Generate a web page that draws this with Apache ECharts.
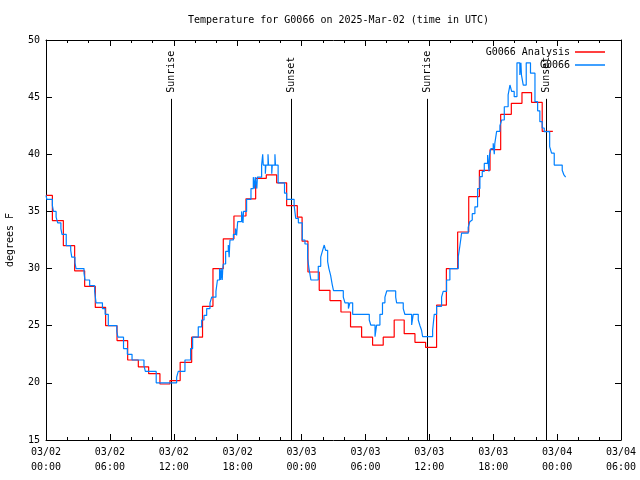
<!DOCTYPE html>
<html><head><meta charset="utf-8">
<script src="https://cdn.jsdelivr.net/npm/echarts@6/dist/echarts.min.js"></script>
<style>html,body{margin:0;padding:0;background:#fff}#c{width:640px;height:480px}</style>
</head><body><div id="c"></div>
<script>
// Hours since 2025-03-02 00:00 UTC
const xTickLabels = ['03/02\n00:00','03/02\n06:00','03/02\n12:00','03/02\n18:00','03/03\n00:00','03/03\n06:00','03/03\n12:00','03/03\n18:00','03/04\n00:00','03/04\n06:00'];
const analysisTimes = [0,0.6,1.63,2.69,3.63,4.63,5.6,6.67,7.67,8.67,9.64,10.7,11.64,12.6,13.68,14.7,15.68,16.65,17.65,18.78,19.69,20.69,21.66,22.6,23.6,24.05,24.6,25.66,26.67,27.7,28.6,29.64,30.67,31.67,32.7,33.64,34.65,35.65,36.68,37.6,38.66,39.7,40.7,41.7,42.7,43.7,44.7,45.6,46.6,47.6];
const analysisTemps = [36.4,34.2,32.0,29.8,28.45,26.6,25.0,23.7,22.0,21.4,20.8,19.9,20.2,21.8,24.0,26.7,30.0,32.6,34.6,36.1,37.9,38.2,37.5,35.5,34.5,32.4,29.7,28.1,27.2,26.2,24.9,24.0,23.3,24.0,25.5,24.3,23.55,23.1,26.8,30.0,33.2,36.3,38.6,40.4,43.5,44.46,45.4,44.55,42.0,42.0];
const obsTimes = [0,0.08,0.6,0.7,0.95,1.1,1.4,1.5,1.9,2.32,2.42,2.72,2.82,3.57,3.66,4.1,4.57,4.7,5.3,5.55,5.85,6.65,6.75,7.28,7.64,8.08,9.2,9.33,10.35,12.27,12.42,13.05,13.58,13.77,14.3,14.62,14.84,15.09,15.4,15.56,15.96,16.1,16.3,16.4,16.45,16.55,16.6,16.65,16.87,17.12,17.2,17.25,17.28,17.6,17.8,17.9,17.95,18.0,18.37,18.5,18.55,18.84,19.25,19.47,19.6,19.65,19.8,19.85,20.25,20.35,20.4,20.6,20.65,20.85,20.9,21.2,21.25,21.5,21.55,21.8,22.4,22.6,23.3,23.45,23.7,24.07,24.32,24.57,24.7,24.88,25.57,25.8,25.95,26.13,26.26,26.45,26.57,26.73,26.88,27.0,27.92,28.08,28.4,28.54,28.8,30.36,30.5,30.9,31.05,31.36,31.6,31.83,32.0,32.84,32.93,33.55,33.7,34.34,34.49,34.96,35.12,35.27,35.37,36.31,36.46,36.68,37.15,37.3,37.62,37.93,38.72,38.87,39.03,39.65,39.8,39.9,40.03,40.28,40.53,40.75,40.97,41.16,41.47,41.6,41.65,41.78,42.0,42.1,42.15,42.32,42.63,42.79,43.04,43.4,43.57,43.73,43.97,44.23,44.5,44.6,44.65,44.82,45.1,45.5,45.92,46.17,46.38,46.6,46.79,47.3,47.48,47.73,48.48,48.64,48.8];
const obsTemps = [36.4,36.06,35.5,35.0,34.5,34.0,33.5,33.0,32.0,31.6,31.0,30.5,30.0,29.6,29.0,28.5,28.0,27.0,26.5,26.0,25.0,24.5,24.0,23.0,22.5,22.0,21.5,21.0,20.0,20.5,21.0,22.0,23.0,24.0,24.9,25.5,25.9,26.5,27.0,27.5,28.0,29.0,30.0,29.0,30.0,29.0,30.0,30.4,31.5,32.06,31.0,32.06,32.5,33.0,33.5,32.9,33.5,34.1,35.0,34.0,35.0,36.06,37.0,38.0,37.0,38.0,37.0,38.0,39.06,40.0,39.06,38.3,39.06,40.0,39.06,38.3,39.06,40.0,39.06,37.5,36.6,36.06,35.56,34.4,34.0,32.5,32.15,30.9,30.0,29.0,30.2,31.0,31.5,32.06,31.6,30.6,30.0,29.4,28.6,28.07,27.5,27.0,26.5,27.0,26.0,25.5,25.06,24.04,25.06,26.0,27.0,27.5,28.04,27.5,27.0,26.5,26.0,25.06,26.0,25.5,25.0,24.6,24.04,24.6,26.0,26.7,27.5,28.0,29.0,30.0,31.04,32.0,33.1,33.6,34.1,34.25,34.8,35.4,37.0,38.04,38.5,39.2,39.94,38.5,39.94,40.5,40.96,40.0,40.96,42.0,42.5,43.0,44.16,45.19,46.06,45.5,45.04,48.0,46.94,48.0,46.94,46.06,48.0,47.1,44.6,43.8,42.85,42.3,41.98,40.67,40.1,39.06,38.6,38.19,38.0];
const sunTimes = [11.74, 23.02, 35.75, 46.97];
const sunLabels = ['Sunrise','Sunset','Sunrise','Sunset'];
const sunLineTop = 44.85;

const FONT = 'DejaVu Sans Mono';
const chart = echarts.init(document.getElementById('c'), null, {renderer:'canvas'});
const zip = (a,b)=>a.map((t,i)=>[t,b[i]]);
const axisCommon = {
  axisLine:{show:true, onZero:false, lineStyle:{color:'#000', width:1}},
  splitLine:{show:false},
};
chart.setOption({
  animation:false,
  backgroundColor:'#fff',
  title:{text:'Temperature for G0066 on 2025-Mar-02 (time in UTC)', left:183, top:10,
    textStyle:{fontFamily:FONT, fontSize:10, fontWeight:'normal', color:'#000'}},
  grid:{left:46, right:19, top:40, bottom:40, containLabel:false, outerBoundsMode:'none'},
  legend:[
    {data:['G0066 Analysis'], right:30, top:42, align:'right', icon:'rect', itemWidth:30, itemHeight:1.5,
     textStyle:{fontFamily:FONT, fontSize:10, color:'#000'}},
    {data:['G0066'], right:30, top:55, align:'right', icon:'rect', itemWidth:30, itemHeight:1.5,
     textStyle:{fontFamily:FONT, fontSize:10, color:'#000'}}
  ],
  xAxis:[
    Object.assign({type:'value', min:0, max:54, interval:6, position:'bottom',
      axisTick:{show:true, inside:true, length:6, lineStyle:{color:'#000'}},
      minorTick:{show:true, splitNumber:3, length:3, lineStyle:{color:'#000'}},
      axisLabel:{margin:5, fontFamily:FONT, fontSize:10, color:'#000', lineHeight:15,
        formatter:v=>xTickLabels[Math.round(v/6)]}}, axisCommon),
    Object.assign({type:'value', min:0, max:54, interval:6, position:'top',
      axisTick:{show:true, inside:true, length:6, lineStyle:{color:'#000'}},
      minorTick:{show:true, splitNumber:3, length:3, lineStyle:{color:'#000'}},
      axisLabel:{show:false}}, axisCommon)
  ],
  yAxis:[
    Object.assign({type:'value', min:15, max:50, interval:5, position:'left',
      name:'degrees F', nameLocation:'middle', nameRotate:90, nameGap:31,
      nameTextStyle:{fontFamily:FONT, fontSize:10, color:'#000'},
      axisTick:{show:true, inside:true, length:6, lineStyle:{color:'#000'}},
      axisLabel:{margin:6, fontFamily:FONT, fontSize:10, color:'#000'}}, axisCommon),
    Object.assign({type:'value', min:15, max:50, interval:5, position:'right',
      axisTick:{show:true, inside:true, length:6, lineStyle:{color:'#000'}},
      axisLabel:{show:false}}, axisCommon)
  ],
  series:[
    {type:'custom', name:'sun', xAxisIndex:0, yAxisIndex:0, z:1,
     data:sunTimes.map(t=>[t]),
     renderItem:function(params, api){
       const t = api.value(0);
       const p0 = api.coord([t,15]);
       const p1 = api.coord([t,sunLineTop]);
       const x = Math.round(p0[0])+0.5;
       return {type:'group', children:[
         {type:'line', shape:{x1:x,y1:p0[1],x2:x,y2:p1[1]}, style:{stroke:'#000', lineWidth:1}},
         {type:'text', x:x, y:p1[1]-6, rotation:Math.PI/2,
          style:{text:sunLabels[params.dataIndex], fill:'#000', font:'10px '+FONT, align:'left', verticalAlign:'middle'}}
       ]};
     }},
    {type:'line', name:'G0066 Analysis', step:'end', showSymbol:false, z:2,
     data:zip(analysisTimes, analysisTemps),
     itemStyle:{color:'#ff0000'}, lineStyle:{color:'#ff0000', width:1.2}},
    {type:'line', name:'G0066', step:'end', showSymbol:false, z:3,
     data:zip(obsTimes, obsTemps),
     itemStyle:{color:'#0080ff'}, lineStyle:{color:'#0080ff', width:1.2}}
  ]
});
</script></body></html>
